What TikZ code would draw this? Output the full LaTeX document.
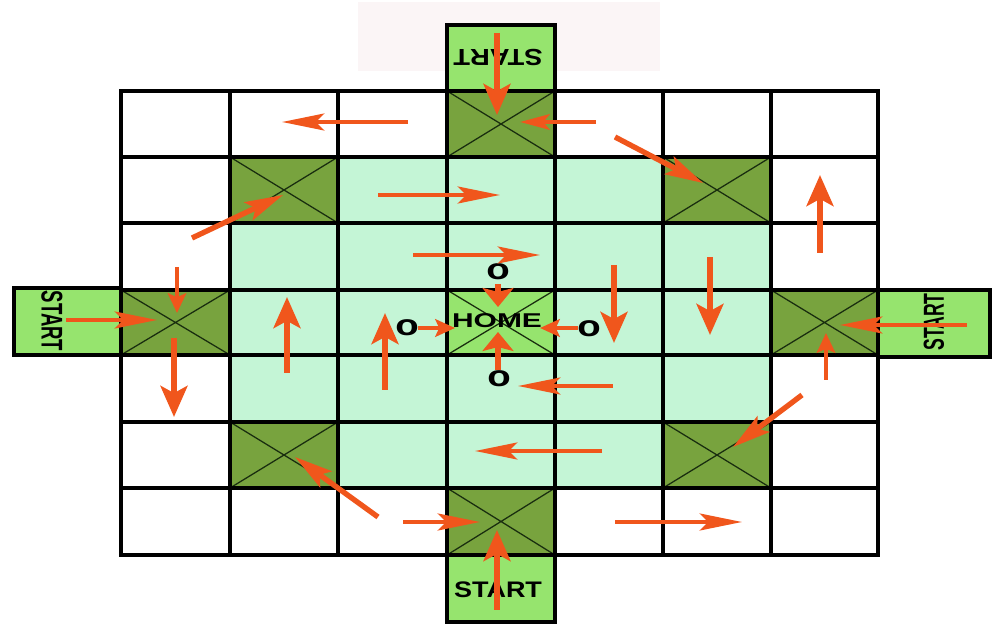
\documentclass[tikz,border=0pt]{standalone}
\usepackage{fontspec}
\setmainfont{Liberation Sans}
\usetikzlibrary{arrows.meta}
\definecolor{darkcell}{RGB}{120,163,62}
\definecolor{mint}{RGB}{196,245,214}
\definecolor{startg}{RGB}{150,228,110}
\definecolor{arr}{RGB}{240,86,28}
\definecolor{pinkbg}{RGB}{251,245,246}
\definecolor{xcol}{RGB}{25,45,15}
\begin{document}
\begin{tikzpicture}[x=0.25mm,y=-0.25mm,
  gridl/.style={draw=black,line width=2.6pt,line cap=rect},
  xline/.style={draw=xcol,line width=0.9pt},
  startbox/.style={fill=startg,draw=black,line width=2.6pt,line cap=rect},
  lbl/.style={inner sep=0pt,text=black},
  arrH/.style={draw=arr,line width=3.2pt,-{Stealth[length=30pt,width=12pt,inset=6pt,fill=arr]}},
  arrHs/.style={draw=arr,line width=3.2pt,-{Stealth[length=21pt,width=11pt,inset=4.5pt,fill=arr]}},
  arrV/.style={draw=arr,line width=4.5pt,-{Stealth[length=22pt,width=19pt,inset=5pt,fill=arr]}},
  arrD/.style={draw=arr,line width=3.8pt,-{Stealth[length=27pt,width=14pt,inset=5.5pt,fill=arr]}},
  arrSH/.style={draw=arr,line width=3.2pt,-{Stealth[length=14pt,width=12.5pt,inset=2.8pt,fill=arr]}},
  arrSV/.style={draw=arr,line width=4.2pt,-{Stealth[length=13.5pt,width=22pt,inset=2.8pt,fill=arr]}},
  arrSV2/.style={draw=arr,line width=3.5pt,-{Stealth[length=14pt,width=13pt,inset=2.8pt,fill=arr]}}
]
\useasboundingbox (0,0) rectangle (1000,640);
% pale background patch at top
\fill[pinkbg] (358,2) rectangle (660,71);
% mint inner area
\fill[mint] (230,157) rectangle (771,488);
% dark crossed cells
\foreach \a/\b/\c/\d in {447/91/555/157, 230/157/338/223, 663/157/771/223,
  121/290/230/355, 771/290/878/355, 230/422/338/488, 663/422/771/488, 447/488/555/555}{
  \fill[darkcell] (\a,\b) rectangle (\c,\d);
  \draw[xline] (\a,\b) -- (\c,\d) (\a,\d) -- (\c,\b);
}
% home cell
\fill[startg] (447,290) rectangle (555,355);
\draw[xline] (447,290) -- (555,355) (447,355) -- (555,290);
% grid
\foreach \y in {91,157,223,290,355,422,488,555}
  \draw[gridl] (121,\y) -- (878,\y);
\foreach \x in {121,230,338,447,555,663,771,878}
  \draw[gridl] (\x,91) -- (\x,555);
% start boxes
\draw[startbox] (447,25) rectangle (555,91);
\draw[startbox] (447,555) rectangle (555,622);
\draw[startbox] (14,288) rectangle (121,355);
\draw[startbox] (878,290) rectangle (990,357);
% texts
\node[lbl,rotate=180] (stT) at (498,57) {\fontsize{16.5pt}{16.5pt}\selectfont\bfseries\scalebox{1.18}[1]{START}};
\node[lbl] (stB) at (498,590) {\fontsize{16pt}{16pt}\selectfont\bfseries\scalebox{1.2}[1]{START}};
\node[lbl,rotate=-90] (stL) at (52,321) {\fontsize{21.3pt}{21.3pt}\selectfont\bfseries\scalebox{0.62}[1]{START}};
\node[lbl,rotate=90] (stR) at (934,322) {\fontsize{20.6pt}{20.6pt}\selectfont\bfseries\scalebox{0.61}[1]{START}};
\node[lbl] (home) at (497,321) {\fontsize{14.2pt}{14.2pt}\selectfont\bfseries\scalebox{1.5}[1]{HOME}};
\node[lbl] (oT) at (498,272) {\fontsize{21pt}{21pt}\selectfont\bfseries\scalebox{1.3}[1]{o}};
\node[lbl] (oL) at (407,328) {\fontsize{21pt}{21pt}\selectfont\bfseries\scalebox{1.3}[1]{o}};
\node[lbl] (oR) at (589,329) {\fontsize{21pt}{21pt}\selectfont\bfseries\scalebox{1.3}[1]{o}};
\node[lbl] (oB) at (499,379) {\fontsize{21pt}{21pt}\selectfont\bfseries\scalebox{1.3}[1]{o}};
% arrows
\draw[arrV] (497,33) -- (497,115);
\draw[arrH] (408,122) -- (282,122);
\draw[arrHs] (596,122) -- (520,122);
\draw[arrD] (615,137) -- (703,183);
\draw[arrV] (820,253) -- (820,175);
\draw[arrH] (378,195) -- (500,195);
\draw[arrD] (192,238) -- (283,195);
\draw[arrH] (413,255) -- (540,255);
\draw[arrSV2] (177,267) -- (177,313);
\draw[arrH] (66,320) -- (157,320);
\draw[arrV] (174,338) -- (174,417);
\draw[arrV] (287,373) -- (287,297);
\draw[arrV] (385,390) -- (385,313);
\draw[arrSH] (418,328) -- (455,328);
\draw[arrSV] (498,284) -- (498,307);
\draw[arrSH] (578,328) -- (540,328);
\draw[arrSV] (498,370) -- (498,332);
\draw[arrV] (614,265) -- (614,343);
\draw[arrV] (710,257) -- (710,335);
\draw[arrH] (967,325) -- (840,325);
\draw[arrSV2] (826,380) -- (826,333);
\draw[arrH] (613,386) -- (518,386);
\draw[arrD] (802,395) -- (733,447);
\draw[arrH] (602,451) -- (475,451);
\draw[arrD] (378,517) -- (295,457);
\draw[arrH] (403,522) -- (480,522);
\draw[arrV] (497,610) -- (497,530);
\draw[arrH] (615,522) -- (742,522);
\end{tikzpicture}
\end{document}
